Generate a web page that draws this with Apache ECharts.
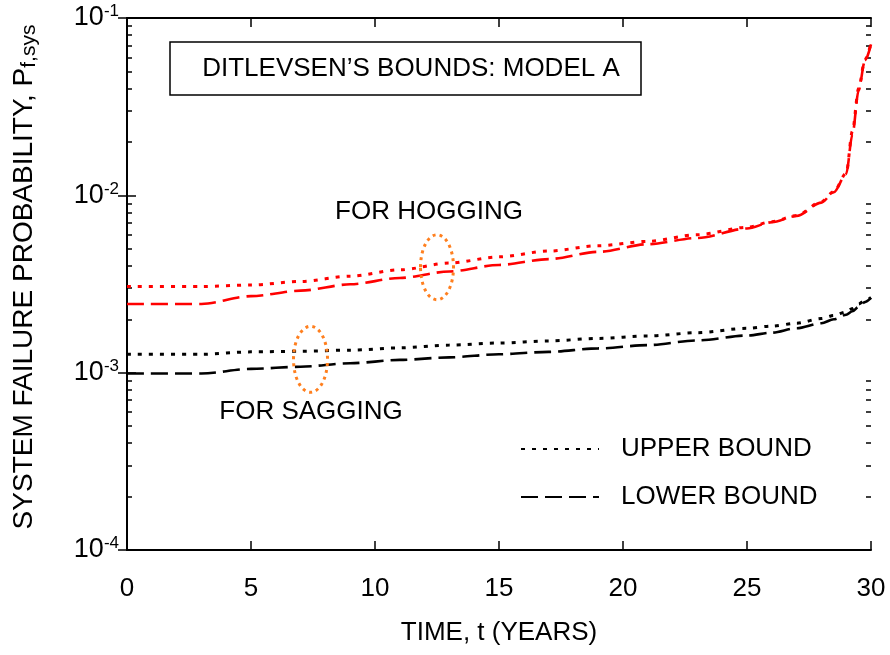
<!DOCTYPE html>
<html><head><meta charset="utf-8">
<script src="https://cdn.jsdelivr.net/npm/echarts@6/dist/echarts.min.js"></script>
<style>html,body{margin:0;padding:0;background:#fff}#c{width:890px;height:655px}</style>
</head><body><div id="c"></div>
<script>
// ---- data ----
const time     = [0, 3, 5, 7, 9, 11, 13, 15, 17, 19, 21, 23, 25, 26, 27, 28, 28.5, 29, 29.25, 29.5, 29.75, 30];
const hogUpper = [3.06e-3, 3.06e-3, 3.12e-3, 3.27e-3, 3.5e-3, 3.8e-3, 4.15e-3, 4.5e-3, 4.85e-3, 5.2e-3, 5.5e-3, 6.0e-3, 6.6e-3, 7.1e-3, 7.7e-3, 9.2e-3, 1.05e-2, 1.33e-2, 2.3e-2, 4.0e-2, 5.8e-2, 7.2e-2];
const hogLower = [2.44e-3, 2.44e-3, 2.7e-3, 2.9e-3, 3.15e-3, 3.42e-3, 3.72e-3, 4.05e-3, 4.37e-3, 4.8e-3, 5.3e-3, 5.75e-3, 6.5e-3, 7.05e-3, 7.65e-3, 9.1e-3, 1.04e-2, 1.32e-2, 2.2e-2, 3.9e-2, 5.7e-2, 7.1e-2];
const sagUpper = [1.27e-3, 1.27e-3, 1.31e-3, 1.32e-3, 1.34e-3, 1.38e-3, 1.43e-3, 1.47e-3, 1.51e-3, 1.56e-3, 1.61e-3, 1.68e-3, 1.78e-3, 1.83e-3, 1.9e-3, 2.02e-3, 2.1e-3, 2.2e-3, 2.3e-3, 2.44e-3, 2.55e-3, 2.65e-3];
const sagLower = [0.99e-3, 0.99e-3, 1.05e-3, 1.08e-3, 1.13e-3, 1.18e-3, 1.22e-3, 1.27e-3, 1.31e-3, 1.37e-3, 1.43e-3, 1.52e-3, 1.62e-3, 1.68e-3, 1.78e-3, 1.9e-3, 2.0e-3, 2.12e-3, 2.22e-3, 2.35e-3, 2.5e-3, 2.64e-3];
const seriesNames = ['HOGGING UPPER', 'HOGGING LOWER', 'UPPER BOUND', 'LOWER BOUND'];
const legendNames = ['UPPER BOUND', 'LOWER BOUND'];
const yDecades = [-4, -3, -2, -1];
const minorMultipliers = [2, 3, 4, 5, 6, 7, 8, 9];
const titleText = 'DITLEVSEN\u2019S BOUNDS: MODEL A';
const hogText = 'FOR HOGGING';
const sagText = 'FOR SAGGING';
const hogEllipseAt = [12.5, 3.93e-3];
const sagEllipseAt = [7.4, 1.19e-3];

// ---- build ----
const FONT = '"Liberation Sans", Arial, sans-serif';
const FS = 26;
const pairs = arr => time.map((t, i) => [t, arr[i]]);
const minorLog = [];
yDecades.slice(0, -1).forEach(d => minorMultipliers.forEach(m => minorLog.push(d + Math.log10(m))));

const chart = echarts.init(document.getElementById('c'), null, {renderer: 'canvas'});
const axisLine = {show: true, lineStyle: {color: '#000', width: 2}};
const majorTick = {show: true, inside: true, length: 9, lineStyle: {color: '#000', width: 1.5}};
const minorTickAxis = pos => ({
  type: 'value', min: -4, max: -1, position: pos,
  axisLine: {show: false},
  axisTick: {show: true, inside: true, length: 5, lineStyle: {color: '#000', width: 1.5}, customValues: minorLog},
  axisLabel: {show: false}, splitLine: {show: false}
});

const lineSeries = (name, arr, color, dash, width) => ({
  name, type: 'line', data: pairs(arr), xAxisIndex: 0, yAxisIndex: 0,
  symbol: 'none', showSymbol: false, smooth: 0.3, smoothMonotone: 'x',
  lineStyle: {color, width, type: dash}, itemStyle: {color},
  z: 3
});
const dotted = [4, 7];
const dashed = [17, 7];

const option = {
  animation: false,
  backgroundColor: '#fff',
  grid: {left: 127, right: 19, top: 18, bottom: 105, containLabel: false, outerBoundsMode: 'none'},
  legend: {
    data: legendNames, orient: 'vertical', left: 515, top: 431,
    itemWidth: 78, itemHeight: 25, itemGap: 22, selectedMode: false,
    itemStyle: {opacity: 0},
    textStyle: {fontSize: FS, fontFamily: FONT, color: '#000', padding: [0, 0, 0, 17]}
  },
  xAxis: [
    {type: 'value', min: 0, max: 30, interval: 5, position: 'bottom',
     axisLine, axisTick: majorTick, splitLine: {show: false},
     axisLabel: {fontSize: FS, fontFamily: FONT, color: '#000', margin: 26},
     name: 'TIME, t (YEARS)', nameLocation: 'middle', nameGap: 70,
     nameTextStyle: {fontSize: FS, fontFamily: FONT, color: '#000'}},
    {type: 'value', min: 0, max: 30, interval: 5, position: 'top',
     axisLine, axisTick: majorTick, splitLine: {show: false}, axisLabel: {show: false}}
  ],
  yAxis: [
    {type: 'log', logBase: 10, min: 1e-4, max: 1e-1, position: 'left',
     axisLine, axisTick: majorTick, splitLine: {show: false},
     axisLabel: {
       margin: 8,
       formatter: v => '{b|10}{sup|' + Math.round(Math.log10(v)) + '}',
       rich: {
         b: {fontSize: 27, fontFamily: FONT, color: '#000', lineHeight: 30, verticalAlign: 'middle'},
         sup: {fontSize: 17, fontFamily: FONT, color: '#000', lineHeight: 17, verticalAlign: 'top'}
       }
     },
     name: 'SYSTEM FAILURE PROBABILITY, P{sub|f,sys}', nameLocation: 'middle', nameRotate: 90, nameGap: 103,
     nameTextStyle: {fontSize: 28, fontFamily: FONT, color: '#000', lineHeight: 32, verticalAlign: 'middle',
       padding: [0, 0, 0, 14],
       rich: {sub: {fontSize: 21, fontFamily: FONT, color: '#000', lineHeight: 21, verticalAlign: 'bottom'}}}},
    {type: 'log', logBase: 10, min: 1e-4, max: 1e-1, position: 'right',
     axisLine, axisTick: majorTick, splitLine: {show: false}, axisLabel: {show: false}},
    minorTickAxis('left'),
    minorTickAxis('right')
  ],
  series: [
    lineSeries(seriesNames[0], hogUpper, '#ff0000', dotted, 3),
    lineSeries(seriesNames[1], hogLower, '#ff0000', dashed, 2.6),
    lineSeries(seriesNames[2], sagUpper, '#000000', dotted, 3),
    lineSeries(seriesNames[3], sagLower, '#000000', dashed, 2.6)
  ]
};
chart.setOption(option);

const toPx = p => chart.convertToPixel({xAxisIndex: 0, yAxisIndex: 0}, p);
const hp = toPx(hogEllipseAt), sp = toPx(sagEllipseAt);
const ellipseStyle = {fill: 'none', stroke: '#ff7f1e', lineWidth: 3, lineDash: [3, 4]};
const txt = (text, x, y) => ({
  type: 'text', x, y, z: 10,
  style: {text, fill: '#000', font: FS + 'px ' + FONT, fontSize: FS, fontFamily: FONT,
          align: 'center', verticalAlign: 'middle', textAlign: 'center', textVerticalAlign: 'middle'}
});
chart.setOption({
  graphic: [
    {type: 'rect', shape: {x: 170, y: 42, width: 471, height: 53},
     style: {fill: '#fff', stroke: '#000', lineWidth: 1.5}, z: 9},
    txt(titleText, 411, 69),
    txt(hogText, 429, 212),
    txt(sagText, 311, 412),
    {type: 'ellipse', shape: {cx: hp[0], cy: hp[1], rx: 16.5, ry: 32.5}, style: ellipseStyle, z: 5},
    {type: 'ellipse', shape: {cx: sp[0], cy: sp[1], rx: 17, ry: 33}, style: ellipseStyle, z: 5}
  ]
});
</script></body></html>
